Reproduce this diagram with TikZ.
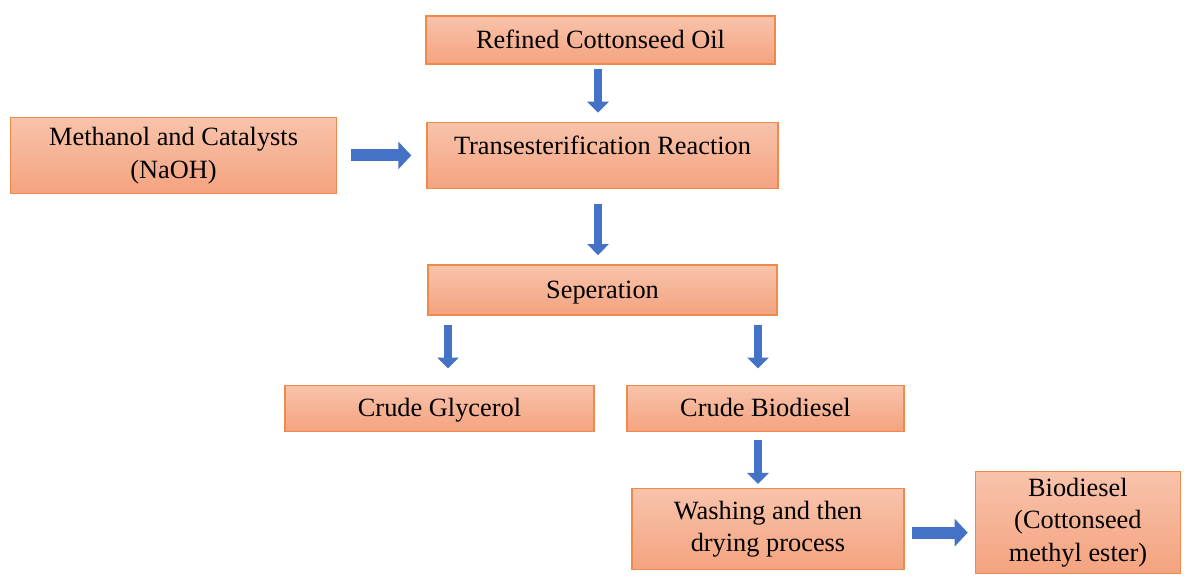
\documentclass[tikz,border=0pt]{standalone}
\usepackage{fontspec}
\setmainfont{Liberation Serif}
\usepackage{tikz}
\usetikzlibrary{arrows.meta,positioning,calc}
\usepackage{xcolor}
\definecolor{BoxTop}{HTML}{F8C3AB}
\definecolor{BoxBot}{HTML}{F4A37F}
\definecolor{BoxLine}{HTML}{EE8A4C}
\definecolor{ArrowBlue}{HTML}{4472C4}
\definecolor{ArrowEdge}{HTML}{2F528F}
\tikzset{
  stage/.style={draw=BoxLine, line width=0.8pt, top color=BoxTop, bottom color=BoxBot, align=center, inner sep=2pt, font=\fontsize{15pt}{18.5pt}\selectfont},
  oneline/.style={stage, text height=0.45cm, text depth=0.1cm},
  downarrow/.style={-{Triangle[length=0.22cm, width=0.42cm]}, line width=0.16cm, draw=ArrowBlue},
  sidearrow/.style={-{Triangle[length=0.26cm, width=0.54cm]}, line width=0.24cm, draw=ArrowBlue}
}
\begin{document}
\begin{tikzpicture}
\useasboundingbox (0,0) rectangle (23.88,-11.52);
\node[oneline, minimum width=6.98cm, minimum height=0.96cm] (oil) at (12.01,-0.80) {Refined Cottonseed Oil};
\node[oneline, below=1.14cm of oil, xshift=0.04cm, minimum width=7.02cm, minimum height=1.32cm] (trans) {\raisebox{0.2cm}{Transesterification Reaction}};
\node[stage, left=1.78cm of trans, minimum width=6.52cm, minimum height=1.52cm] (meth) {Methanol and Catalysts\\(NaOH)};
\node[oneline, below=1.5cm of trans, minimum width=6.98cm, minimum height=1.0cm] (sep) {Seperation};
\node[oneline, below=1.38cm of sep, xshift=-3.26cm, minimum width=6.18cm, minimum height=0.92cm] (glyc) {Crude Glycerol};
\node[oneline, below=1.38cm of sep, xshift=3.26cm, minimum width=5.54cm, minimum height=0.92cm] (crude) {Crude Biodiesel};
\node[stage, below=1.12cm of crude, xshift=0.05cm, minimum width=5.44cm, minimum height=1.62cm] (wash) {Washing and then\\drying process};
\node[stage, right=1.4cm of wash, yshift=0.13cm, minimum width=4.1cm, minimum height=2.04cm] (bio) {Biodiesel\\(Cottonseed\\methyl ester)};
% block arrows between the stages
\draw[downarrow, shorten <=0.08cm, shorten >=0.18cm] ($(oil.south)+(-0.05,0)$) -- ($(oil.south |- trans.north)+(-0.05,0)$);
\draw[sidearrow, shorten <=0.28cm, shorten >=0.30cm] (meth.east) -- (meth.east -| trans.west);
\draw[downarrow, shorten <=0.30cm, shorten >=0.18cm] ($(trans.south)+(-0.09,0)$) -- ($(sep.north)+(-0.09,0)$);
\draw[downarrow, shorten <=0.18cm, shorten >=0.32cm] ($(sep.south -| glyc.north)+(0.17,0)$) -- ($(glyc.north)+(0.17,0)$);
\draw[downarrow, shorten <=0.18cm, shorten >=0.32cm] ($(sep.south -| crude.north)+(-0.15,0)$) -- ($(crude.north)+(-0.15,0)$);
\draw[downarrow, shorten <=0.16cm, shorten >=0.08cm] ($(crude.south)+(-0.15,0)$) -- ($(crude.south |- wash.north)+(-0.15,0)$);
\draw[sidearrow, shorten <=0.14cm, shorten >=0.14cm] ($(wash.east)+(0,-0.07)$) -- ($(wash.east -| bio.west)+(0,-0.07)$);
\end{tikzpicture}
\end{document}
